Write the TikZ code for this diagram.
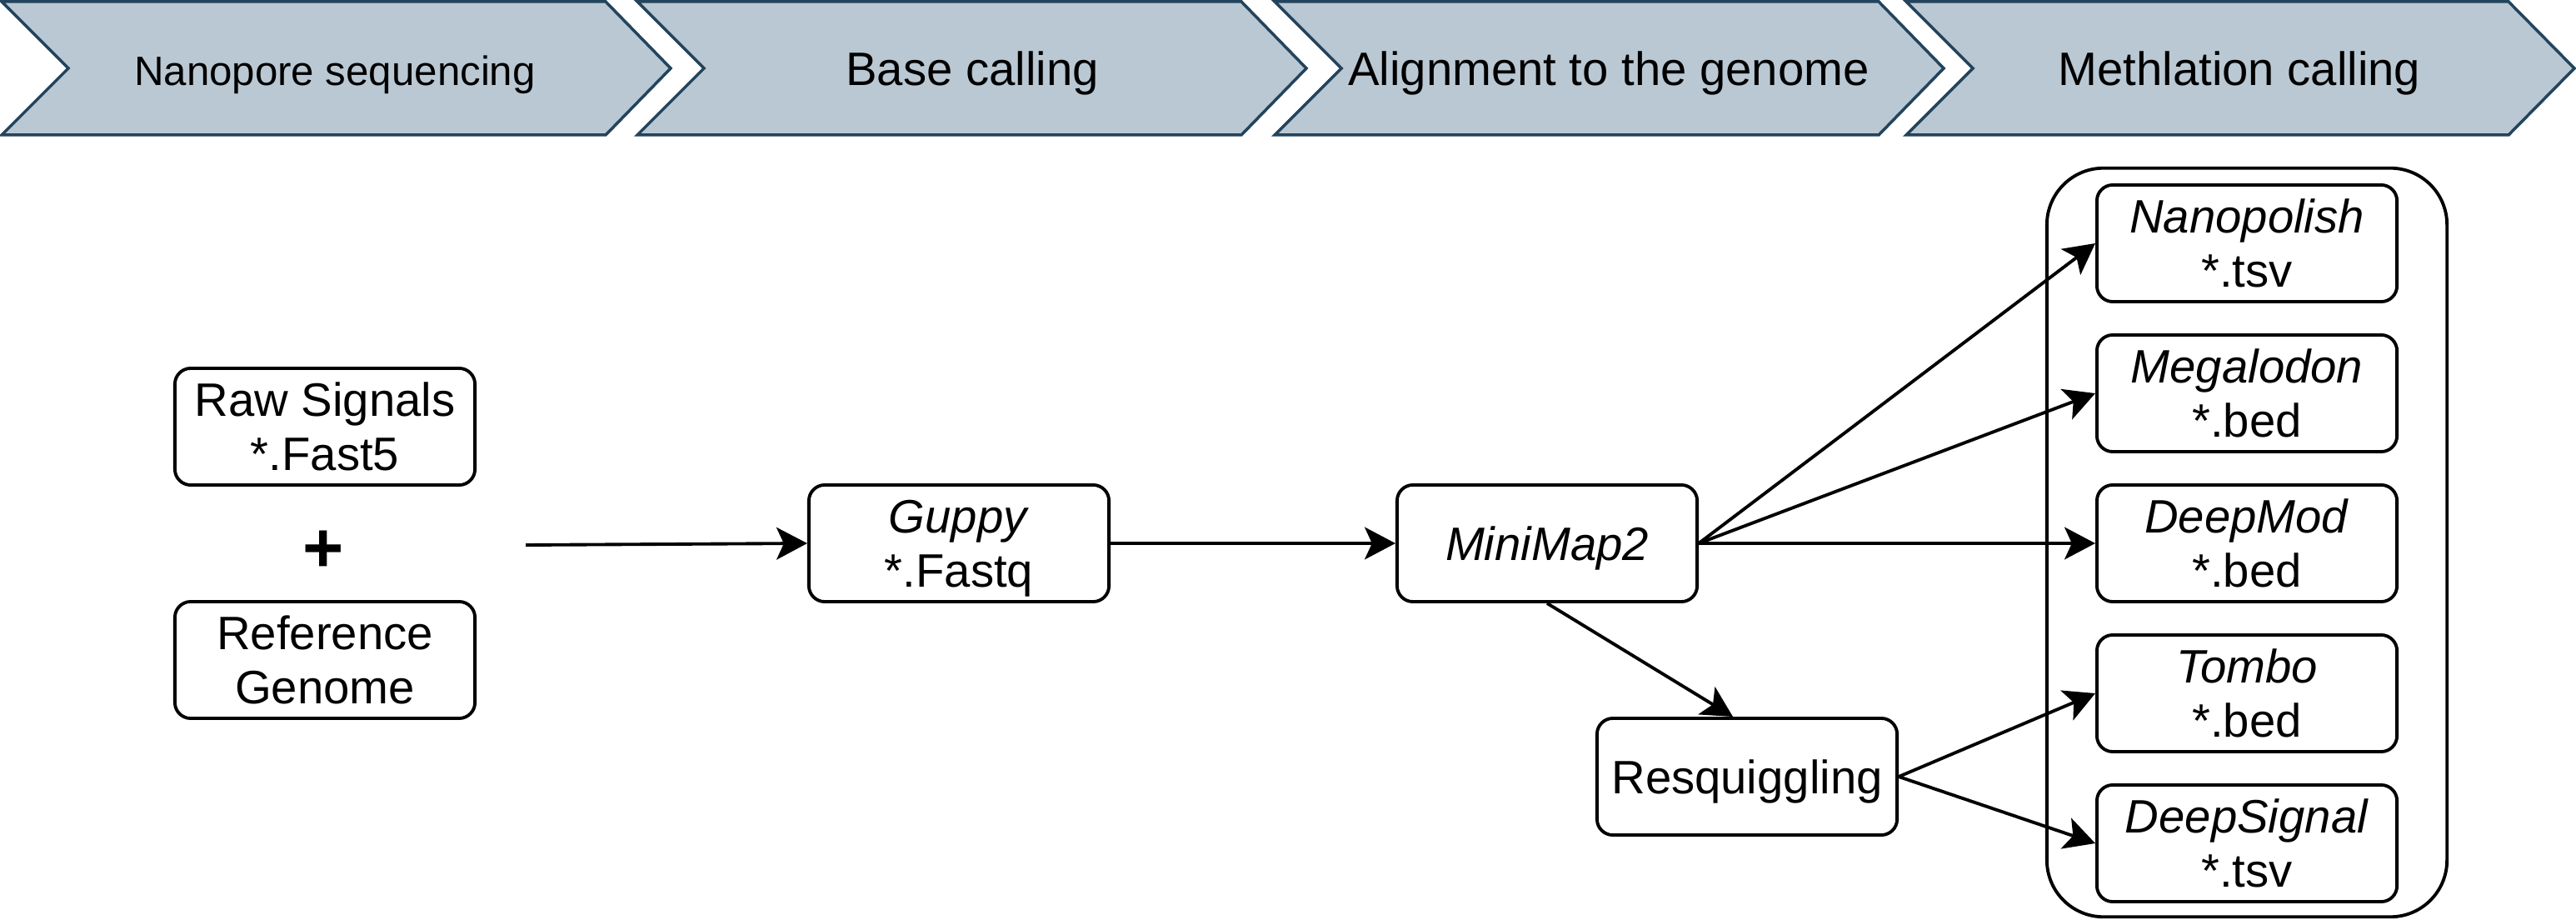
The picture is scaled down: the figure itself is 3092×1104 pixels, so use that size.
\documentclass[tikz,border=0pt]{standalone}
\usepackage{fontspec}
\setmainfont{Liberation Sans}
\usetikzlibrary{arrows.meta}
\definecolor{stagefill}{HTML}{BAC8D3}
\definecolor{stageline}{HTML}{23445D}

\begin{document}
\begin{tikzpicture}[x=0.01cm,y=-0.01cm,
  stage/.style={draw=stageline,fill=stagefill,line width=1pt},
  stagetext/.style={anchor=base,inner sep=0pt,font=\fontsize{16}{19}\selectfont},
  box/.style={draw,rounded corners=0.19cm,line width=1.1pt,minimum width=3.6cm,minimum height=1.4cm,
    align=center,inner sep=0pt,text depth=0pt,font=\fontsize{16}{18.5}\selectfont},
  group/.style={draw,rounded corners=0.68cm,line width=1.1pt,minimum width=4.8cm,minimum height=8.98cm},
  arr/.style={line width=1.1pt,-{Stealth[length=10.5pt,width=11pt,inset=2.5pt]}}]

  \useasboundingbox (0,0) rectangle (3092,1104);

  % stages on top
  \draw[stage] (2,2) -- (727,2) -- (805,82) -- (727,162) -- (2,162) -- (82,82) -- cycle;
  \draw[stage] (765,2) -- (1490,2) -- (1568,82) -- (1490,162) -- (765,162) -- (845,82) -- cycle;
  \draw[stage] (1530,2) -- (2255,2) -- (2333,82) -- (2255,162) -- (1530,162) -- (1610,82) -- cycle;
  \draw[stage] (2288,2) -- (3011,2) -- (3090,82) -- (3011,162) -- (2288,162) -- (2368,82) -- cycle;
  \node[stagetext,font=\fontsize{14}{17}\selectfont] (seq) at (402,103) {Nanopore sequencing};
  \node[stagetext] (basecall) at (1167,103) {Base calling};
  \node[stagetext] (align) at (1931,103) {Alignment to the genome};
  \node[stagetext] (methcall) at (2688,103) {Methlation calling};

  % inputs
  \node[box] (raw) at (390,512) {Raw Signals\\*.Fast5};
  \node[font=\fontsize{24}{28}\selectfont\bfseries] (plus) at (388,662) {+};
  \node[box] (ref) at (390,792) {Reference\\Genome};
  \coordinate (in) at (631,654);

  % pipeline
  \node[box] (guppy) at (1151,652) {\textit{Guppy}\\*.Fastq};
  \node[box] (mm) at (1857,652) {\textit{MiniMap2}};
  \node[box] (resq) at (2097,932) {Resquiggling};

  % callers
  \node[group] (tools) at (2697,651) {};
  \node[box] (nano) at (2697,292) {\textit{Nanopolish}\\*.tsv};
  \node[box] (mega) at (2697,472) {\textit{Megalodon}\\*.bed};
  \node[box] (dmod) at (2697,652) {\textit{DeepMod}\\*.bed};
  \node[box] (tombo) at (2697,832) {\textit{Tombo}\\*.bed};
  \node[box] (dsig) at (2697,1012) {\textit{DeepSignal}\\*.tsv};

  \draw[arr] (in) -- (guppy.west);
  \draw[arr] (guppy) -- (mm);
  \draw[arr] (mm.south) -- ([xshift=-0.17cm]resq.north);
  \draw[arr] (mm.east) -- (nano.west);
  \draw[arr] (mm.east) -- (mega.west);
  \draw[arr] (mm.east) -- (dmod.west);
  \draw[arr] (resq.east) -- (tombo.west);
  \draw[arr] (resq.east) -- (dsig.west);

\end{tikzpicture}
\end{document}
